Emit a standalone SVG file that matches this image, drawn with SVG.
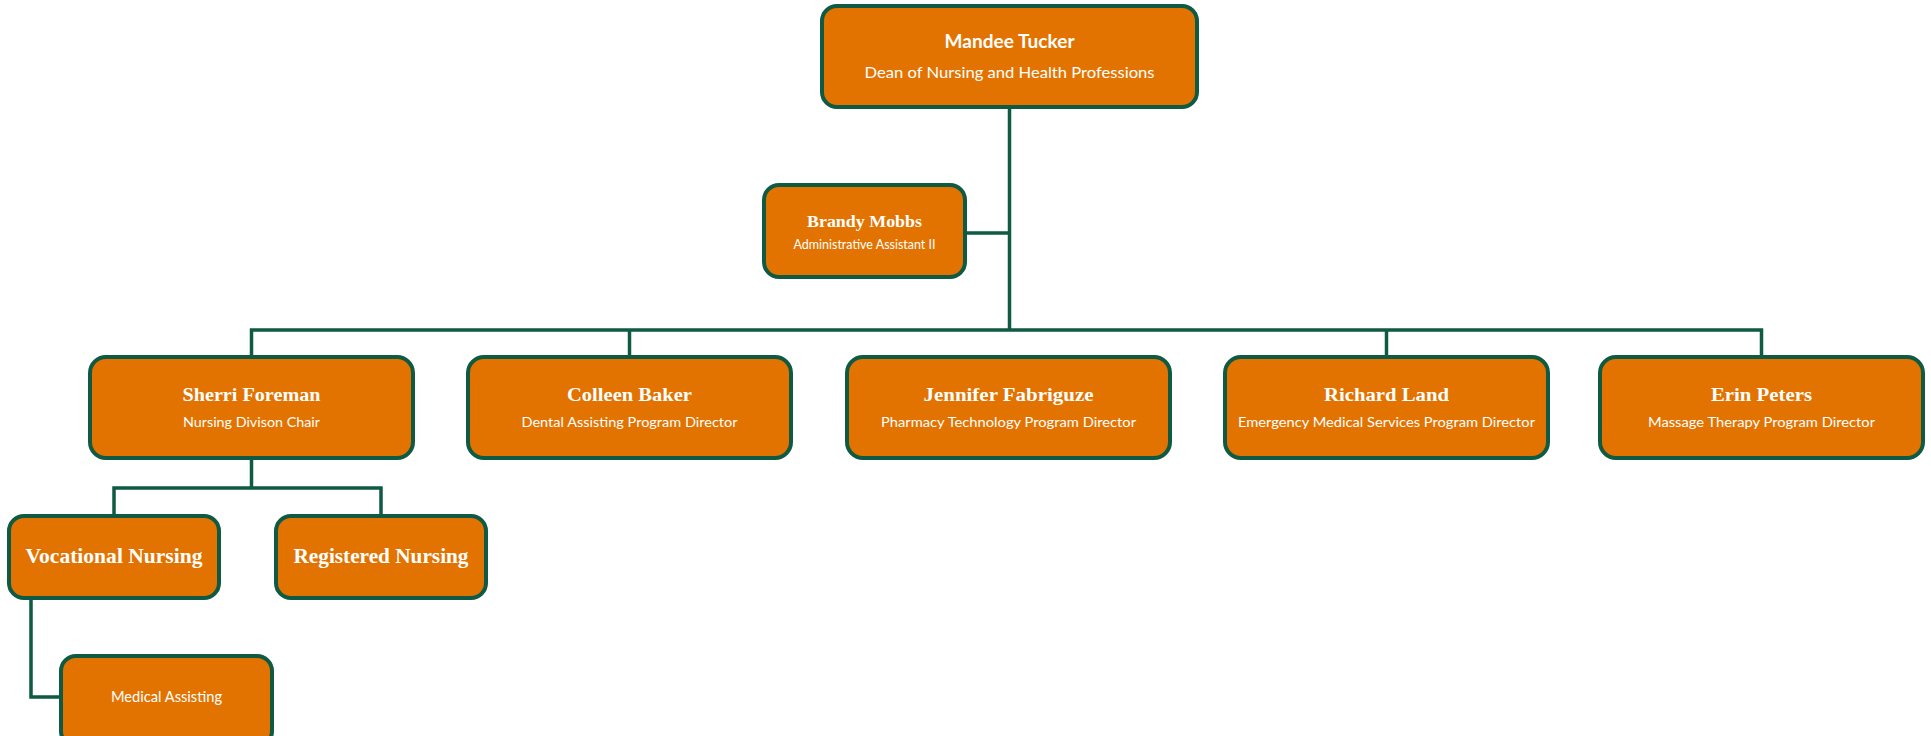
<svg xmlns="http://www.w3.org/2000/svg" width="1931" height="736" viewBox="0 0 1931 736">
<style>
.box{fill:#E37300;stroke:#0E5A42;stroke-width:4}
.ln{fill:none;stroke:#0E5A42;stroke-width:3.5}
.nm{font-family:"Liberation Serif","Times New Roman",serif;font-weight:bold;fill:#FFFFFF;text-anchor:middle}
.sb{font-family:Lato,"Liberation Sans",sans-serif;fill:#FFFFFF;text-anchor:middle}
.top{font-family:Lato,"Liberation Sans",sans-serif;font-weight:bold;fill:#FFFFFF;text-anchor:middle}
</style>
<rect width="1931" height="736" fill="#FFFFFF"/>
<g id="connectors">
<path class="ln" d="M1009.5 107 V330"/>
<path class="ln" d="M965 233 H1009.5"/>
<path class="ln" d="M251.5 357 V330 H1761.5 V357"/>
<path class="ln" d="M629.5 330 V357"/>
<path class="ln" d="M1386.5 330 V357"/>
<path class="ln" d="M251.5 458 V488"/>
<path class="ln" d="M114 516 V488 H381 V516"/>
<path class="ln" d="M31 598 V697 H61"/>
</g>
<g id="n-mandee">
<rect class="box" x="822" y="6" width="375" height="101" rx="15"/>
<text class="top" x="1009.5" y="48" font-size="19.5" textLength="130" lengthAdjust="spacingAndGlyphs">Mandee Tucker</text>
<text class="sb" x="1009.5" y="77.5" font-size="15" textLength="290" lengthAdjust="spacingAndGlyphs">Dean of Nursing and Health Professions</text>
</g>
<g id="n-brandy">
<rect class="box" x="764" y="185" width="201" height="92" rx="15"/>
<text class="nm" x="864.5" y="226.5" font-size="17.5" textLength="115" lengthAdjust="spacingAndGlyphs">Brandy Mobbs</text>
<text class="sb" x="864.5" y="249" font-size="12.5" textLength="142" lengthAdjust="spacingAndGlyphs">Administrative Assistant II</text>
</g>
<g id="n-sherri">
<rect class="box" x="90" y="357" width="323" height="101" rx="16"/>
<text class="nm" x="251.5" y="400.5" font-size="18.5" textLength="138" lengthAdjust="spacingAndGlyphs">Sherri Foreman</text>
<text class="sb" x="251.5" y="426.5" font-size="14" textLength="137" lengthAdjust="spacingAndGlyphs">Nursing Divison Chair</text>
</g>
<g id="n-colleen">
<rect class="box" x="468" y="357" width="323" height="101" rx="16"/>
<text class="nm" x="629.5" y="400.5" font-size="18.5" textLength="125" lengthAdjust="spacingAndGlyphs">Colleen Baker</text>
<text class="sb" x="629.5" y="426.5" font-size="14" textLength="216" lengthAdjust="spacingAndGlyphs">Dental Assisting Program Director</text>
</g>
<g id="n-jennifer">
<rect class="box" x="847" y="357" width="323" height="101" rx="16"/>
<text class="nm" x="1008.5" y="400.5" font-size="18.5" textLength="170" lengthAdjust="spacingAndGlyphs">Jennifer Fabriguze</text>
<text class="sb" x="1008.5" y="426.5" font-size="14" textLength="255" lengthAdjust="spacingAndGlyphs">Pharmacy Technology Program Director</text>
</g>
<g id="n-richard">
<rect class="box" x="1225" y="357" width="323" height="101" rx="16"/>
<text class="nm" x="1386.5" y="400.5" font-size="18.5" textLength="125" lengthAdjust="spacingAndGlyphs">Richard Land</text>
<text class="sb" x="1386.5" y="426.5" font-size="14" textLength="297" lengthAdjust="spacingAndGlyphs">Emergency Medical Services Program Director</text>
</g>
<g id="n-erin">
<rect class="box" x="1600" y="357" width="323" height="101" rx="16"/>
<text class="nm" x="1761.5" y="400.5" font-size="18.5" textLength="101" lengthAdjust="spacingAndGlyphs">Erin Peters</text>
<text class="sb" x="1761.5" y="426.5" font-size="14" textLength="227" lengthAdjust="spacingAndGlyphs">Massage Therapy Program Director</text>
</g>
<g id="n-vocational">
<rect class="box" x="9" y="516" width="210" height="82" rx="15"/>
<text class="nm" x="114" y="563" font-size="21" textLength="177" lengthAdjust="spacingAndGlyphs">Vocational Nursing</text>
</g>
<g id="n-registered">
<rect class="box" x="276" y="516" width="210" height="82" rx="15"/>
<text class="nm" x="381" y="563" font-size="21" textLength="175" lengthAdjust="spacingAndGlyphs">Registered Nursing</text>
</g>
<g id="n-medical">
<rect class="box" x="61" y="656" width="211" height="90" rx="15"/>
<text class="sb" x="166.5" y="701.5" font-size="15" textLength="111" lengthAdjust="spacingAndGlyphs">Medical Assisting</text>
</g>
</svg>
